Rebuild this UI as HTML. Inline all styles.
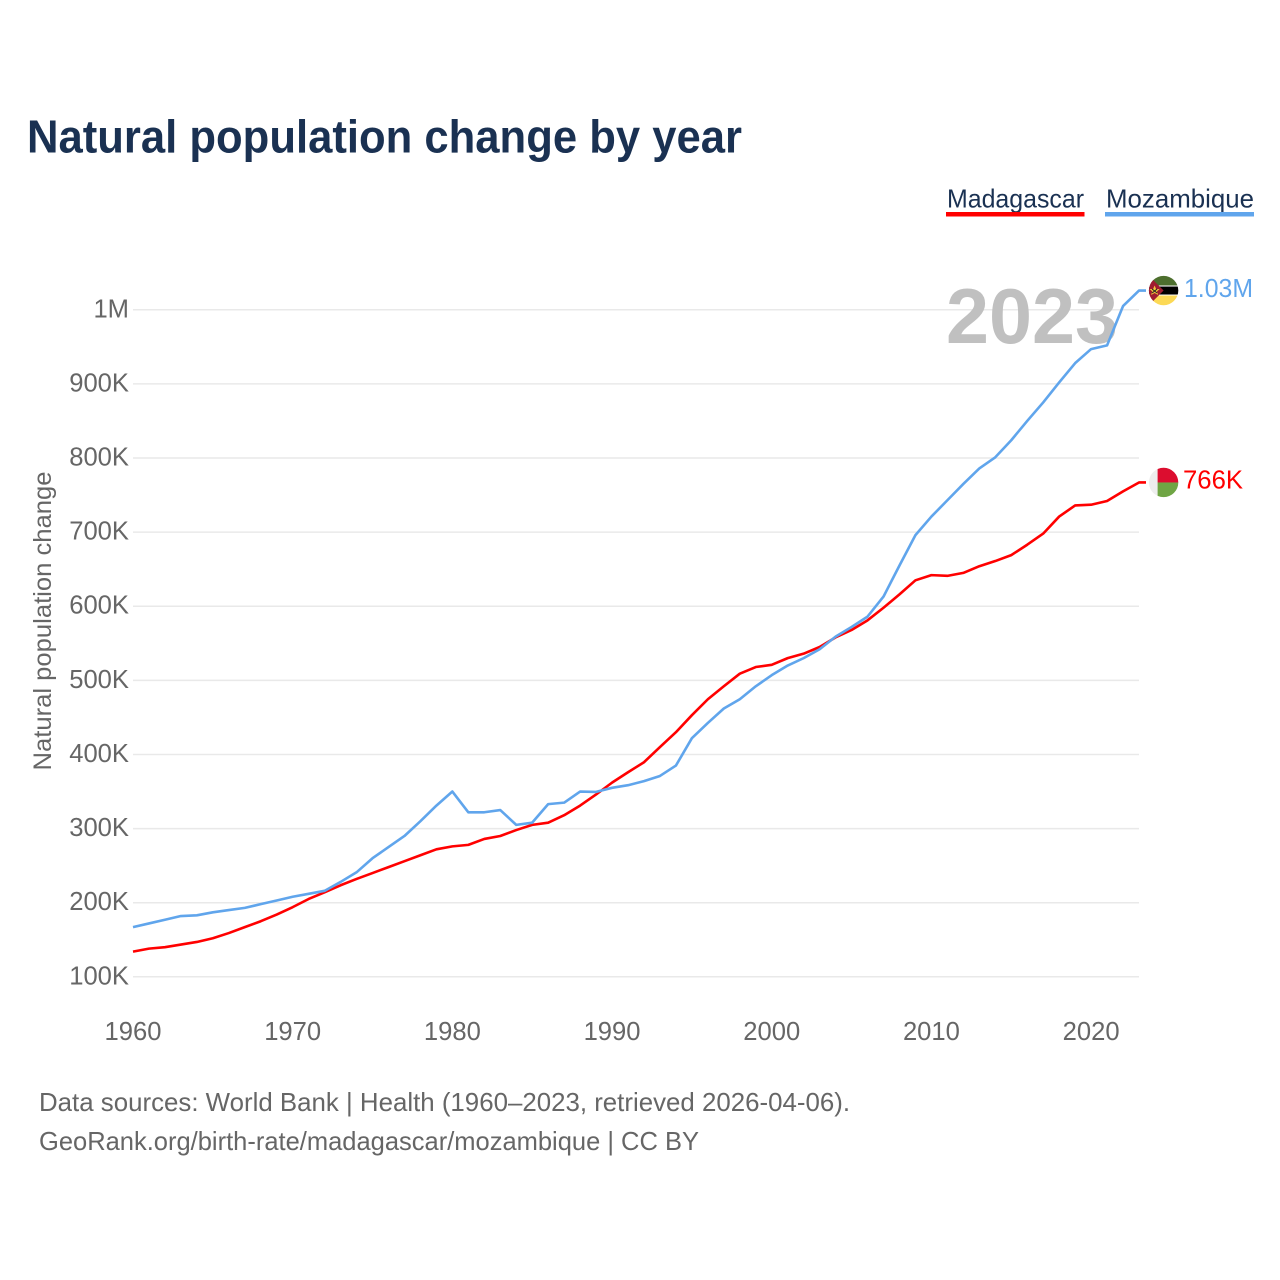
<!DOCTYPE html>
<html lang="en">
<head>
<meta charset="utf-8">
<title>Natural population change by year</title>
<style>
html,body{margin:0;padding:0;background:#fff;width:1280px;height:1280px;overflow:hidden}
svg{display:block}
text{font-family:"Liberation Sans",sans-serif}
</style>
</head>
<body>
<svg id="chart" width="1280" height="1280" viewBox="0 0 1280 1280" xmlns="http://www.w3.org/2000/svg">
  <defs>
    <clipPath id="flag-clip"><circle cx="0" cy="0" r="14.7"></circle></clipPath>
  </defs>
  <rect width="1280" height="1280" fill="#fff"></rect>
  <text x="27" y="152.5" font-size="46" font-weight="700" fill="#1a3152" textLength="715" lengthAdjust="spacingAndGlyphs">Natural population change by year</text>

  <g>
    <text x="947" y="207.5" font-size="26" fill="#1a3152" textLength="137" lengthAdjust="spacingAndGlyphs">Madagascar</text>
    <rect x="946" y="212" width="138.5" height="4.5" fill="#ff0000"></rect>
  </g>
  <g>
    <text x="1106" y="207.5" font-size="26" fill="#1a3152" textLength="148" lengthAdjust="spacingAndGlyphs">Mozambique</text>
    <rect x="1105" y="212" width="149" height="4.5" fill="#60a5ec"></rect>
  </g>

  <g id="grid"></g>
  <text x="946" y="343" font-size="78" font-weight="700" fill="#c0c0c0" textLength="172" lengthAdjust="spacingAndGlyphs">2023</text>
  <g id="y-ticks"></g>
  <g id="x-ticks"></g>
  <text transform="translate(51 621) rotate(-90)" text-anchor="middle" font-size="25" fill="#666" textLength="299" lengthAdjust="spacingAndGlyphs">Natural population change</text>
  <g id="series"></g>

  <g id="flag-mozambique">
    <g clip-path="url(#flag-clip)">
      <rect x="-15" y="-16" width="30" height="11" fill="#4d6f2e"></rect>
      <rect x="-15" y="-5" width="30" height="10" fill="#fff"></rect>
      <rect x="-15" y="-4" width="30" height="8" fill="#000"></rect>
      <rect x="-15" y="5" width="30" height="11" fill="#fcd955"></rect>
      <polygon points="-16,-16 0,0 -16,16" fill="#a01c30"></polygon>
      <polygon points="-9,-5 -7.5,-1.5 -4,-1.5 -6.7,1 -5.5,4.5 -9,2.5 -12.5,4.5 -11.3,1 -14,-1.5 -10.5,-1.5" fill="#f3c73c"></polygon>
      <path d="M-11.5,-1.5 L-6.5,2.5 M-6.5,-1.5 L-11.5,2.5" stroke="#222" stroke-width="1"></path>
    </g>
  </g>
  <g id="flag-madagascar">
    <g clip-path="url(#flag-clip)">
      <rect x="-15" y="-15" width="9" height="30" fill="#eeeeee"></rect>
      <rect x="-6" y="-15" width="21" height="15" fill="#dc0d2f"></rect>
      <rect x="-6" y="0" width="21" height="15" fill="#6fa544"></rect>
    </g>
  </g>
  <g id="end-labels"></g>

  <text x="39" y="1111" font-size="26" fill="#666" textLength="811" lengthAdjust="spacingAndGlyphs">Data sources: World Bank | Health (1960–2023, retrieved 2026-04-06).</text>
  <text x="39" y="1150" font-size="26" fill="#666" textLength="660" lengthAdjust="spacingAndGlyphs">GeoRank.org/birth-rate/madagascar/mozambique | CC BY</text>
</svg>
<script>
const firstYear = 1960;
const madagascar = [134,138,140,143.5,147,152,159,167,175,184,194,205,214,223.5,232,240,248,256,264,272,276,278,286,290,298,305,308,318,331,346,362,376,389.5,410,430,453,474.5,492,509,518,521,530,536,545,558,568,581,598,616,635,642,641,645,654,661,669,683,698,721,736,737,742,755,767];
const mozambique = [167,172,177,182,183,187,190,193,198,203,208,212,216,228,241,260,275,290,310,331,350,322,322,325,305,308,333,335,350,349.5,355,358.5,364,371,385,422,442.5,462,474.5,492,507,520,530,542,559,572,586,613,655,696,721,743,765,786,801,824,850,875,902,928,947,952,1005,1026];
const yTickValues = [100,200,300,400,500,600,700,800,900,1000];
const yTickLabels = ['100K','200K','300K','400K','500K','600K','700K','800K','900K','1M'];
const xTickYears = [1960,1970,1980,1990,2000,2010,2020];
const endLabelMadagascar = '766K';
const endLabelMozambique = '1.03M';

const NS = 'http://www.w3.org/2000/svg';
const xOf = function (year) { return 133 + (year - 1960) * (1139 - 133) / 63; };
const yOf = function (v) { return 976.8 - (v - 100) * (976.8 - 309.8) / 900; };
function mk(tag, parent, attrs, txt) {
  const el = document.createElementNS(NS, tag);
  for (const k in attrs) el.setAttribute(k, attrs[k]);
  if (txt !== undefined) el.textContent = txt;
  parent.appendChild(el);
  return el;
}

const grid = document.getElementById('grid');
const yTicks = document.getElementById('y-ticks');
const xTicks = document.getElementById('x-ticks');
const series = document.getElementById('series');
const endLabels = document.getElementById('end-labels');

yTickValues.forEach(function (v, i) {
  const line = mk('line', grid, {x1: xOf(1960), x2: xOf(2023), y1: yOf(v), y2: yOf(v), stroke: '#e9e9e9', 'stroke-width': 1.5});
  
  
  const t = mk('text', yTicks, {x: 129, y: yOf(v) + 7.5, 'text-anchor': 'end', 'font-size': 25.6, fill: '#666'}, yTickLabels[i]);
  
  
});

xTickYears.forEach(function (yr) {
  const t = mk('text', xTicks, {x: xOf(yr), y: 1040, 'text-anchor': 'middle', 'font-size': 25.6, fill: '#666'}, String(yr));
  
  
});

function drawSeries(values, color) {
  const pts = values.map(function (v, i) { return xOf(firstYear + i).toFixed(2) + ',' + yOf(v).toFixed(2); });
  const lastX = xOf(firstYear + values.length - 1);
  const lastY = yOf(values[values.length - 1]);
  pts.push((lastX + 7).toFixed(2) + ',' + lastY.toFixed(2));
  return mk('polyline', series, {points: pts.join(' '), fill: 'none', stroke: color, 'stroke-width': 2.6, 'stroke-linejoin': 'round'});
}
const lineMad = drawSeries(madagascar, '#ff0000');


const lineMoz = drawSeries(mozambique, '#60a5ec');



const endMad = yOf(madagascar[madagascar.length - 1]);
const endMoz = yOf(mozambique[mozambique.length - 1]);
document.getElementById('flag-madagascar').setAttribute('transform', 'translate(1163.6 ' + endMad + ')');
document.getElementById('flag-mozambique').setAttribute('transform', 'translate(1163.6 ' + endMoz + ')');

const labMad = mk('text', endLabels, {x: 1183, y: endMad + 6, 'font-size': 25.6, fill: '#ff0000', textLength: 60, lengthAdjust: 'spacingAndGlyphs'}, endLabelMadagascar);


const labMoz = mk('text', endLabels, {x: 1184, y: endMoz + 6.5, 'font-size': 25.6, fill: '#60a5ec', textLength: 69, lengthAdjust: 'spacingAndGlyphs'}, endLabelMozambique);


</script>
</body>
</html>
